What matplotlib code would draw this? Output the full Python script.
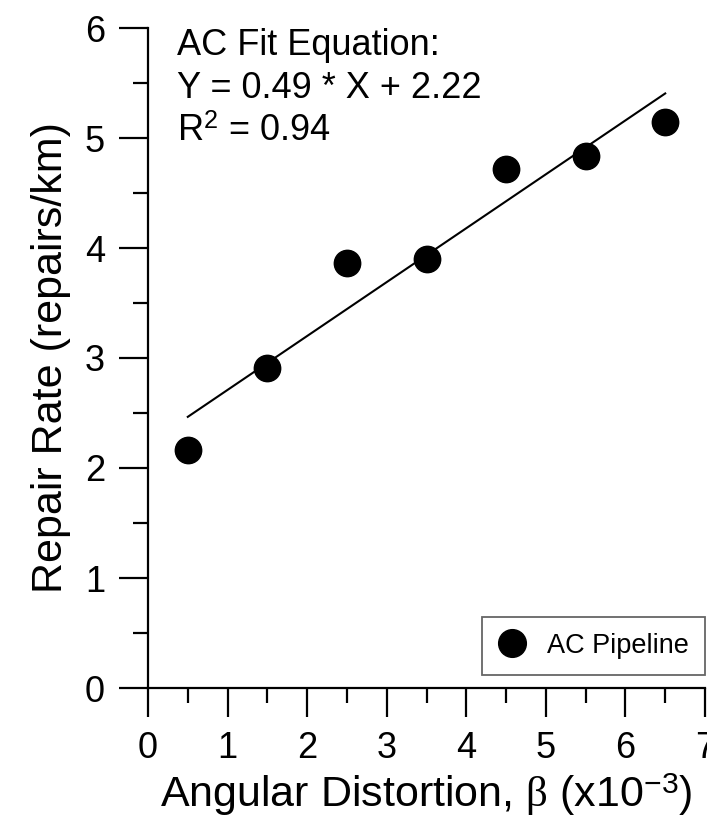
import numpy as np
import matplotlib.pyplot as plt
from matplotlib.ticker import MultipleLocator

plt.rcParams['font.family'] = ['Liberation Sans', 'DejaVu Sans']
plt.rcParams['mathtext.fontset'] = 'custom'
plt.rcParams['mathtext.rm'] = 'Liberation Sans'
plt.rcParams['mathtext.it'] = 'Liberation Serif'

# data
distortion = [0.5, 1.5, 2.5, 3.5, 4.5, 5.5, 6.5]
repair_rate = [2.16, 2.91, 3.86, 3.90, 4.72, 4.84, 5.15]
fit_slope = 0.49
fit_icpt = 2.22
fit_r2 = 0.94

fig = plt.figure(figsize=(7.07, 8.32), dpi=100)
ax = fig.add_axes([148/707, 1-688/832, 557/707, 660/832])

ax.plot(distortion, repair_rate, 'o', color='black', markersize=19, label='AC Pipeline', zorder=3)
xf = np.array([distortion[0], distortion[-1]])
ax.plot(xf, fit_slope*xf + fit_icpt, color='black', lw=1.5)

ax.set_xlim(0, 7)
ax.set_ylim(0, 6)
ax.xaxis.set_major_locator(MultipleLocator(1))
ax.xaxis.set_minor_locator(MultipleLocator(0.5))
ax.yaxis.set_major_locator(MultipleLocator(1))
ax.yaxis.set_minor_locator(MultipleLocator(0.5))
for s in ['top', 'right']:
    ax.spines[s].set_visible(False)
for s in ['left', 'bottom']:
    ax.spines[s].set_linewidth(1.6)
ax.tick_params(which='major', direction='out', length=21, width=1.6, labelsize=26, pad=10)
ax.tick_params(which='minor', direction='out', length=11, width=1.6)

ax.set_xlabel(r'Angular Distortion, $\beta$ (x10$^{-3}$)', fontsize=31, labelpad=4)
ax.set_ylabel('Repair Rate (repairs/km)', fontsize=31, labelpad=10)

ax.text(0.36, 5.84, 'AC Fit Equation:', fontsize=26, va='center')
ax.text(0.36, 5.45, 'Y = %.2f * X + %.2f' % (fit_slope, fit_icpt), fontsize=26, va='center')
ax.text(0.36, 5.06, 'R$^2$ = %.2f' % fit_r2, fontsize=26, va='center')

leg = ax.legend(loc='lower right', bbox_to_anchor=(705/707, 157/832), bbox_transform=fig.transFigure,
                borderaxespad=0, fontsize=19.5, fancybox=False, edgecolor='#666666', framealpha=1,
                handlelength=1.05, handletextpad=0.75, borderpad=0.6, markerscale=1.05)
leg.get_frame().set_linewidth(1.3)

fig.savefig('out.png', dpi=100)
